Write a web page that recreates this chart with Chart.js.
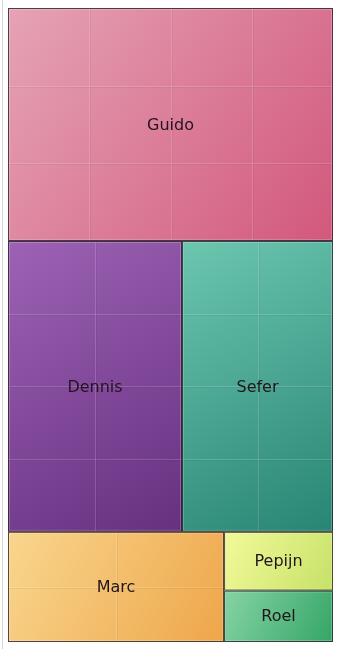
<!DOCTYPE html>
<html>
<head>
<meta charset="utf-8">
<script src="https://cdn.jsdelivr.net/npm/chart.js@4.4.1/dist/chart.umd.min.js"></script>
<style>
  html,body{margin:0;padding:0;background:#fff;}
  #wrap{position:relative;width:337px;height:649px;}
  #wrap:before{content:'';position:absolute;left:2px;top:0;bottom:0;width:1px;background:#d6d6d6;}
</style>
</head>
<body>
<div id="wrap"><canvas id="tm" width="337" height="649"></canvas></div>
<script>
// people and their sizes
const names=['Guido','Dennis','Sefer','Marc','Pepijn','Roel'];
const sizes=[75.7,50.6,43.9,23.8,6.4,5.6];

// fills: light corner -> dark corner
const lightCols=['#e5a3b6','#9d62b5','#6cc6b0','#f9d68e','#f3fa9a','#86d4a4'];
const darkCols=['#d2587c','#67307f','#288573','#eea64a','#c6e168','#35a567'];
const gridCols=[4,2,2,2,1,1];
const gridRows=[3,4,4,2,1,1];

// squarified layout, returns rects in 0..1 units of the plot
function squarify(vals,W,H){
  const total=vals.reduce((a,b)=>a+b,0);
  const areas=vals.map(v=>v*W*H/total);
  const worst=(row,side)=>{
    const s=row.reduce((a,b)=>a+b,0), mx=Math.max(...row), mn=Math.min(...row);
    return Math.max(side*side*mx/(s*s), s*s/(side*side*mn));
  };
  let rx=0,ry=0,rw=W,rh=H,i=0;
  const out=[];
  while(i<areas.length){
    const side=Math.min(rw,rh);
    const row=[areas[i]]; let j=i+1;
    while(j<areas.length && worst([...row,areas[j]],side)<=worst(row,side)){ row.push(areas[j]); j++; }
    const thick=row.reduce((a,b)=>a+b,0)/side;
    if(rw<=rh){
      let cx=rx;
      row.forEach(a=>{const cw=a/thick; out.push({x:cx,y:ry,w:cw,h:thick}); cx+=cw;});
      ry+=thick; rh-=thick;
    }else{
      let cy=ry;
      row.forEach(a=>{const ch=a/thick; out.push({x:rx,y:cy,w:thick,h:ch}); cy+=ch;});
      rx+=thick; rw-=thick;
    }
    i=j;
  }
  return out.map(r=>({x0:r.x/W,y0:r.y/H,x1:(r.x+r.w)/W,y1:(r.y+r.h)/H}));
}

const treemapPlugin={
  id:'treemap',
  afterDatasetsDraw(chart){
    const {ctx,chartArea:ca,scales:{x,y}}=chart;
    const rects=squarify(sizes,ca.right-ca.left,ca.bottom-ca.top);
    ctx.save();
    rects.forEach((r,k)=>{
      const l=x.getPixelForValue(r.x0), rt=x.getPixelForValue(r.x1);
      const t=y.getPixelForValue(r.y0), b=y.getPixelForValue(r.y1);
      const w=rt-l, h=b-t;
      const g=ctx.createLinearGradient(l,t,rt,b);
      g.addColorStop(0,lightCols[k]);
      g.addColorStop(1,darkCols[k]);
      ctx.fillStyle=g;
      ctx.fillRect(l,t,w,h);

      // faint tile lines
      ctx.lineWidth=1;
      for(let c=1;c<gridCols[k];c++){
        const gx=Math.round(l+w*c/gridCols[k])+0.5;
        ctx.strokeStyle='rgba(255,255,255,0.16)';
        ctx.beginPath();ctx.moveTo(gx,t);ctx.lineTo(gx,b);ctx.stroke();
        ctx.strokeStyle='rgba(0,0,0,0.05)';
        ctx.beginPath();ctx.moveTo(gx+1,t);ctx.lineTo(gx+1,b);ctx.stroke();
      }
      for(let rr=1;rr<gridRows[k];rr++){
        const gy=Math.round(t+h*rr/gridRows[k])+0.5;
        ctx.strokeStyle='rgba(255,255,255,0.16)';
        ctx.beginPath();ctx.moveTo(l,gy);ctx.lineTo(rt,gy);ctx.stroke();
        ctx.strokeStyle='rgba(0,0,0,0.05)';
        ctx.beginPath();ctx.moveTo(l,gy+1);ctx.lineTo(rt,gy+1);ctx.stroke();
      }

      // inner highlight + border
      ctx.strokeStyle='rgba(255,255,255,0.22)';
      ctx.strokeRect(l+1.5,t+1.5,w-3,h-3);
      ctx.strokeStyle='rgba(45,32,42,0.8)';
      ctx.strokeRect(l+0.5,t+0.5,w-1,h-1);

      ctx.fillStyle='#20151d';
      ctx.font='16px "DejaVu Sans", sans-serif';
      ctx.textAlign='center';
      ctx.textBaseline='middle';
      ctx.fillText(names[k],(l+rt)/2,(t+b)/2+1);
    });
    ctx.restore();
  }
};

new Chart(document.getElementById('tm'),{
  type:'scatter',
  data:{datasets:[{data:[],pointRadius:0}]},
  options:{
    responsive:false,
    animation:false,
    layout:{padding:{left:8,top:8,right:4,bottom:7}},
    plugins:{legend:{display:false},tooltip:{enabled:false}},
    scales:{
      x:{type:'linear',min:0,max:1,display:false},
      y:{type:'linear',min:0,max:1,reverse:true,display:false}
    }
  },
  plugins:[treemapPlugin]
});
</script>
</body>
</html>
